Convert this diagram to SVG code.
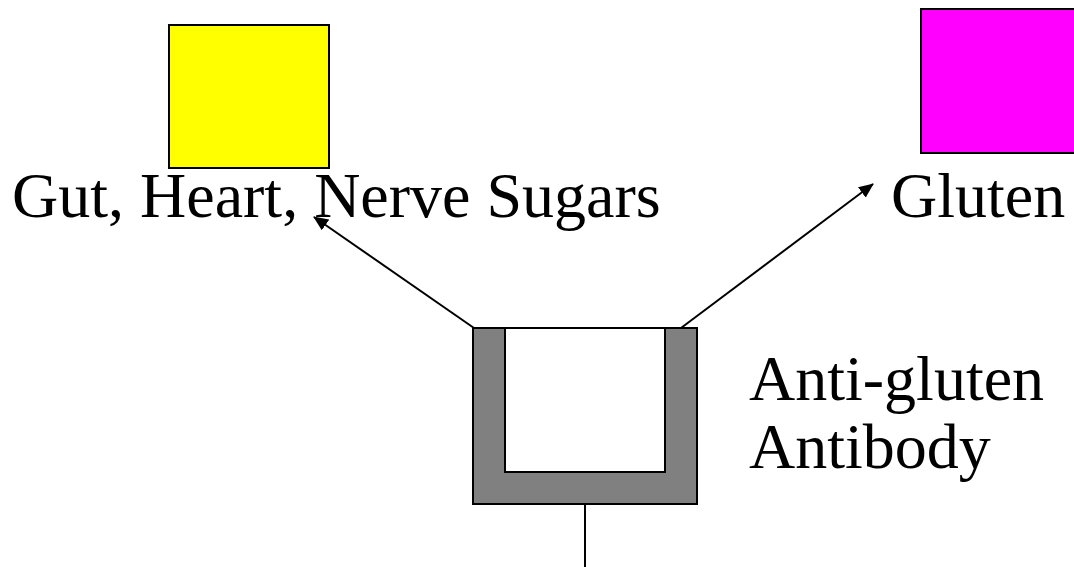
<svg xmlns="http://www.w3.org/2000/svg" width="1074" height="567" viewBox="0 0 1074 567">
<style>
.lbl{font-family:"Liberation Serif","Times New Roman",serif;font-size:64px;fill:#000}
.conn{stroke:#000;stroke-width:2;fill:none}
.box{stroke:#000;stroke-width:2}
</style>
<defs>
<marker id="ah" viewBox="0 0 15 13" refX="14" refY="6.5" markerWidth="15" markerHeight="13" markerUnits="userSpaceOnUse" orient="auto">
<path d="M0,0 L15,6.5 L0,13 Z" fill="#000"/>
</marker>
</defs>
<rect width="1074" height="567" fill="#fff"/>
<g id="connectors">
<line class="conn" x1="474" y1="328" x2="314" y2="217" marker-end="url(#ah)"/>
<line class="conn" x1="681" y1="328" x2="873" y2="184" marker-end="url(#ah)"/>
<line class="conn" x1="585" y1="505" x2="585" y2="567"/>
</g>
<g id="sugars">
<rect class="box" x="169" y="25" width="160" height="143" fill="#ffff00"/>
<text class="lbl" x="12" y="217">Gut, Heart, Nerve Sugars</text>
</g>
<g id="gluten">
<rect class="box" x="921" y="9" width="160" height="144" fill="#ff00ff"/>
<text class="lbl" x="891" y="217">Gluten</text>
</g>
<g id="antibody">
<rect class="box" x="473" y="328" width="224" height="176" fill="#808080"/>
<rect class="box" x="505" y="328" width="160" height="144" fill="#ffffff"/>
<text class="lbl" x="749" y="400">Anti-gluten</text>
<text class="lbl" x="749" y="468">Antibody</text>
</g>
</svg>
